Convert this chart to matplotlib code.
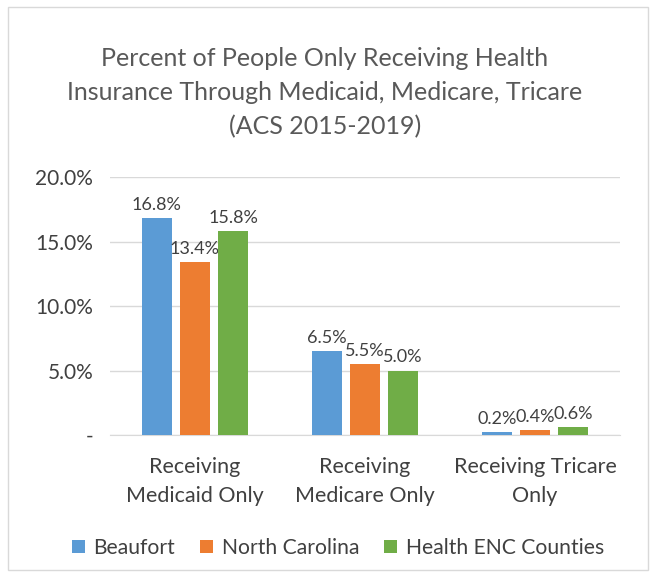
import matplotlib.pyplot as plt
from matplotlib.patches import Rectangle
import numpy as np

##########################################################
#                        Data                            #
##########################################################

categories = ['Receiving\nMedicaid Only', 'Receiving\nMedicare Only', 'Receiving Tricare\nOnly']
beaufort = [16.8, 6.5, 0.2]
north_carolina = [13.4, 5.5, 0.4]
health_enc = [15.8, 5.0, 0.6]
series_names = ['Beaufort', 'North Carolina', 'Health ENC Counties']
colors = ['#5B9BD5', '#ED7D31', '#70AD47']
y_ticks = [0, 5, 10, 15, 20]
y_tick_labels = ['-', '5.0%', '10.0%', '15.0%', '20.0%']

##########################################################
#                        Plot                            #
##########################################################

plt.rcParams['font.family'] = ['Lato', 'DejaVu Sans']
text_color = '#404040'

fig = plt.figure(figsize=(6.5, 5.72), dpi=100)
ax = fig.add_axes([0.169, 0.2395, 0.785, 0.451])

# Light border around the whole chart
fig.patches.append(Rectangle((0.012, 0.003), 0.985, 0.984, transform=fig.transFigure,
                             fill=False, edgecolor='#D9D9D9', linewidth=1))

x = np.arange(len(categories))
width = 0.176
step = 0.224
for i, (vals, name) in enumerate(zip([beaufort, north_carolina, health_enc], series_names)):
    pos = x + (i - 1) * step
    bars = ax.bar(pos, vals, width, color=colors[i], label=name, zorder=3)
    for b, v in zip(bars, vals):
        ax.text(b.get_x() + b.get_width() / 2, v + 0.4, f'{v:.1f}%',
                ha='center', va='bottom', fontsize=13, color=text_color)

ax.set_ylim(0, 20)
ax.set_xlim(-0.5, 2.5)
ax.set_yticks(y_ticks)
ax.set_yticklabels(y_tick_labels, fontsize=15, color=text_color)
ax.set_xticks(x)
ax.set_xticklabels(categories, fontsize=15.5, color=text_color, linespacing=1.55)
ax.tick_params(axis='y', length=0, pad=12)
ax.tick_params(axis='x', length=0, pad=16)

ax.grid(axis='y', color='#D9D9D9', linewidth=1, zorder=0)
for s in ['top', 'right', 'left']:
    ax.spines[s].set_visible(False)
ax.spines['bottom'].set_color('#D9D9D9')

fig.text(0.5, 0.838, 'Percent of People Only Receiving Health\nInsurance Through Medicaid, Medicare, Tricare\n(ACS 2015-2019)',
         ha='center', va='center', fontsize=18, color='#595959', linespacing=1.55)

fig.legend(loc='center', bbox_to_anchor=(0.52, 0.042), ncol=3, frameon=False,
           fontsize=15.2, handlelength=0.6, handleheight=0.6, handletextpad=0.4,
           columnspacing=1.2, labelcolor=text_color)

plt.savefig('out.png', dpi=100)
